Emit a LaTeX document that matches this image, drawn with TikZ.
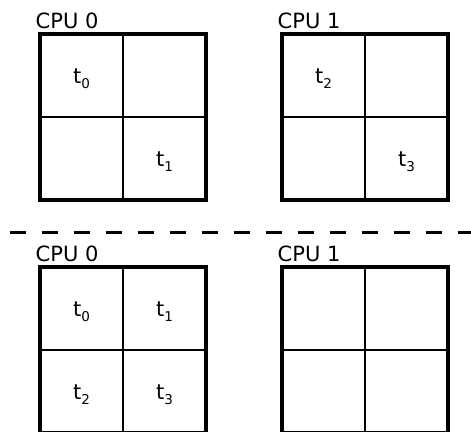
\documentclass[tikz,border=0pt]{standalone}
\usepackage{fontspec}
\setmainfont{DejaVu Sans}
\usetikzlibrary{calc}
% task label: "t" with a lowered, smaller index
\newcommand\tsk[1]{t\raisebox{-4.6pt}{\fontsize{13.5}{14}\selectfont #1}}
\begin{document}
\begin{tikzpicture}[x=1pt,y=-1pt,
  cpubox/.style={draw, line width=4pt, minimum width=166pt, minimum height=166pt,
                 inner sep=0pt, outer sep=0pt},
  divider/.style={line width=1.2pt},
  cpulabel/.style={anchor=base west, inner sep=0pt, font=\fontsize{21}{25}\selectfont},
  task/.style={anchor=base, inner sep=0pt, font=\fontsize{21}{25}\selectfont},
  separator/.style={line width=3pt, dash pattern=on 16pt off 16pt},
]
\useasboundingbox (0,0) rectangle (471,431);

% upper layout: tasks spread over both CPUs
\node[cpubox] (A) at (123,117) {};
\node[cpubox] (B) at (365,117) {};
% lower layout: all tasks packed onto CPU 0
\node[cpubox] (C) at (123,350) {};
\node[cpubox] (D) at (365,350) {};

\foreach \b in {A,B,C,D}{
  \draw[divider] (\b.north) -- (\b.south);
  \draw[divider] (\b.west) -- (\b.east);
}

\node[cpulabel] (lA) at ($(A.north west)+(-4.5,-5.6)$) {CPU 0};
\node[cpulabel] (lB) at ($(B.north west)+(-4.5,-5.6)$) {CPU 1};
\node[cpulabel] (lC) at ($(C.north west)+(-4.5,-5.6)$) {CPU 0};
\node[cpulabel] (lD) at ($(D.north west)+(-4.5,-5.6)$) {CPU 1};

% tasks, upper layout
\node[task] (u0) at (81.5,83.5)  {\tsk{0}};
\node[task] (u1) at (164.5,166.5) {\tsk{1}};
\node[task] (u2) at (323.5,83.5)  {\tsk{2}};
\node[task] (u3) at (406.5,166.5) {\tsk{3}};

% tasks, lower layout
\node[task] (d0) at (81.5,316.5)  {\tsk{0}};
\node[task] (d1) at (164.5,316.5) {\tsk{1}};
\node[task] (d2) at (81.5,399.5)  {\tsk{2}};
\node[task] (d3) at (164.5,399.5) {\tsk{3}};

% dashed separator between the two layouts
\coordinate (sl) at (10,232.5);
\coordinate (sr) at (471,232.5);
\draw[separator] (sl) -- (sr);
\end{tikzpicture}
\end{document}
